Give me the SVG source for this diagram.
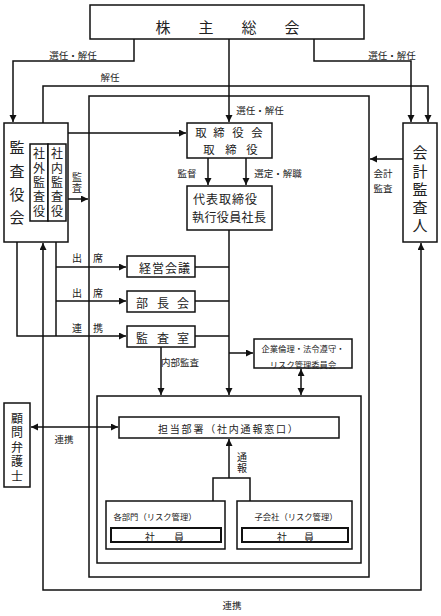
<svg xmlns="http://www.w3.org/2000/svg" width="441" height="616" viewBox="0 0 441 616">
<style>
.b{fill:#fff;stroke:#111;stroke-width:1.5}
.bt{fill:none;stroke:#111;stroke-width:2}
.c{fill:none;stroke:#111;stroke-width:1.5}
text{font-family:"Noto Sans CJK JP","Noto Sans CJK SC",sans-serif;fill:#222;text-anchor:middle;dominant-baseline:central}
.v{writing-mode:vertical-rl;text-orientation:upright}
.f15{font-size:15px}.f13{font-size:12px}.f12{font-size:12px}.f11{font-size:11.4px}.f10{font-size:10px}.f9{font-size:9.5px}.f8{font-size:8.3px}
</style>
<defs>
<marker id="a" markerUnits="userSpaceOnUse" markerWidth="8" markerHeight="8" refX="7" refY="3.5" orient="auto-start-reverse"><path d="M0,0 L7,3.5 L0,7 z" fill="#111"/></marker>
</defs>
<rect width="441" height="616" fill="#fff"/>
<g id="frames">
<rect x="89" y="96" width="280" height="481" class="b"/>
<rect x="97" y="396" width="264" height="167" class="b"/>
</g>
<g id="connectors">
<path class="c" d="M134,39 V61 H13 V122" marker-end="url(#a)"/>
<path class="c" d="M229,39 V122" marker-end="url(#a)"/>
<path class="c" d="M314,39 V61 H411 V122" marker-end="url(#a)"/>
<path class="c" d="M43,123 V86 H428 V122" marker-end="url(#a)"/>
<path class="c" d="M39,144 V133 H186" marker-end="url(#a)"/>
<path class="c" d="M56,144 V133"/>
<path class="c" d="M68,199 H88" marker-end="url(#a)"/>
<path class="c" d="M208,158 V185" marker-end="url(#a)"/>
<path class="c" d="M246,158 V185" marker-end="url(#a)"/>
<path class="c" d="M403,159 H370" marker-end="url(#a)"/>
<path class="c" d="M56,221 V336"/>
<path class="c" d="M56,267 H126" marker-end="url(#a)"/>
<path class="c" d="M56,301 H126" marker-end="url(#a)"/>
<path class="c" d="M17,242 V336 H126" marker-end="url(#a)"/>
<path class="c" d="M43,243 V590 H421 V243" marker-start="url(#a)" marker-end="url(#a)"/>
<path class="c" d="M229,230 V395" marker-end="url(#a)"/>
<path class="c" d="M195,267 H229 M195,301 H229 M195,336 H229"/>
<path class="c" d="M229,353 H253" marker-end="url(#a)"/>
<path class="c" d="M161,347 V395" marker-end="url(#a)"/>
<path class="c" d="M301,369 V395" marker-start="url(#a)" marker-end="url(#a)"/>
<path class="c" d="M31,427 H118" marker-start="url(#a)" marker-end="url(#a)"/>
<path class="c" d="M229,478 V439" marker-end="url(#a)"/>
<path class="c" d="M213,528 V478 H250 V528"/>
</g>
<g id="labels">
<text class="f9" x="73" y="55">選任・解任</text>
<text class="f9" x="392" y="55">選任・解任</text>
<text class="f9" x="110" y="77">解任</text>
<text class="f9" x="260" y="110">選任・解任</text>
<text class="f9" x="187" y="173">監督</text>
<text class="f9" x="278" y="173">選定・解職</text>
<text class="f10 v" x="77" y="177 188">監査</text>
<text class="f9" x="383" y="173">会計</text>
<text class="f9" x="383" y="188">監査</text>
<text class="f10" x="77 98" y="257">出席</text>
<text class="f10" x="77 98" y="292">出席</text>
<text class="f10" x="77 98" y="327">連携</text>
<text class="f9" x="180" y="362">内部監査</text>
<text class="f9" x="64" y="439">連携</text>
<text class="f10 v" x="242" y="457 468">通報</text>
<text class="f9" x="232" y="605">連携</text>
</g>
<g id="n-kabunushi">
<rect x="90" y="5" width="274" height="34" class="b"/>
<text class="f15" x="163 206 249 292" y="26">株主総会</text>
</g>
<g id="n-kansayakukai">
<rect x="4" y="123" width="64" height="119" class="b"/>
<text class="f15 v" x="17" y="147 171 194 217">監査役会</text>
</g>
<g id="n-shagai">
<rect x="30" y="144" width="18" height="77" class="b"/>
<text class="f12 v" x="39" y="153 168 182 196 211">社外監査役</text>
</g>
<g id="n-shanai">
<rect x="48" y="144" width="18" height="77" class="b"/>
<text class="f12 v" x="57" y="153 168 182 196 211">社内監査役</text>
</g>
<g id="n-torishimariyakukai">
<rect x="187" y="123" width="85" height="35" class="b"/>
<text class="f11" x="201 219 238 257" y="132">取締役会</text>
<text class="f11" x="209 231 252" y="149">取締役</text>
</g>
<g id="n-daihyo">
<rect x="187" y="186" width="85" height="44" class="b"/>
<text class="f13" x="199 212 225 238 251" y="198">代表取締役</text>
<text class="f13" x="198 210.4 222.8 235.2 247.6 260" y="216">執行役員社長</text>
</g>
<g id="n-kaikeikansanin">
<rect x="403" y="123" width="34" height="119" class="b"/>
<text class="f15 v" x="420" y="152 171 189 207 225">会計監査人</text>
</g>
<g id="n-keieikaigi">
<rect x="127" y="256" width="68" height="21" class="b"/>
<text class="f12" x="145 158 171 184" y="267">経営会議</text>
</g>
<g id="n-buchokai">
<rect x="127" y="291" width="68" height="21" class="b"/>
<text class="f12" x="142 163 183" y="302">部長会</text>
</g>
<g id="n-kansashitsu">
<rect x="127" y="326" width="68" height="21" class="b"/>
<text class="f12" x="142 163 183" y="337">監査室</text>
</g>
<g id="n-iinkai">
<rect x="254" y="339" width="98" height="29" class="b"/>
<text class="f8" x="303" y="348">企業倫理・法令遵守・</text>
<text class="f8" x="303" y="364">リスク管理委員会</text>
</g>
<g id="n-komon">
<rect x="4" y="403" width="26" height="84" class="b"/>
<text class="f13 v" x="17" y="418 432 447 461 476">顧問弁護士</text>
</g>
<g id="n-tanto">
<rect x="119" y="417" width="220" height="21" class="b"/>
<text class="f10" x="163 174.8 186.6 198.4 210.2 222 233.8 245.6 257.4 269.2 281 292.8" y="428">担当部署（社内通報窓口）</text>
</g>
<g id="n-kakubumon">
<rect x="106" y="501" width="119" height="48" class="b"/>
<text class="f8" x="155" y="516">各部門（リスク管理）</text>
<rect x="111" y="528" width="110" height="14" class="bt"/>
<text class="f10" x="150 179" y="536">社員</text>
</g>
<g id="n-kogaisha">
<rect x="237" y="501" width="115" height="48" class="b"/>
<text class="f8" x="296" y="516">子会社（リスク管理）</text>
<rect x="242" y="528" width="106" height="14" class="bt"/>
<text class="f10" x="282 309" y="536">社員</text>
</g>
</svg>
